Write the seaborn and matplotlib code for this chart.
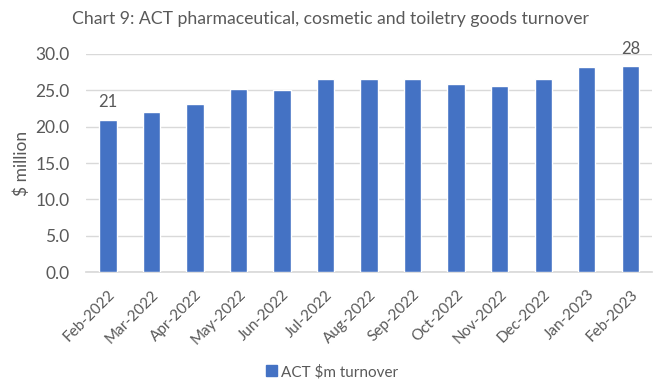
import matplotlib
matplotlib.use("Agg")
import matplotlib.pyplot as plt
import seaborn as sns
import pandas as pd
from matplotlib.patches import Patch

months = ["Feb-2022", "Mar-2022", "Apr-2022", "May-2022", "Jun-2022", "Jul-2022",
          "Aug-2022", "Sep-2022", "Oct-2022", "Nov-2022", "Dec-2022", "Jan-2023", "Feb-2023"]
turnover = [20.95, 22.05, 23.1, 25.2, 25.1, 26.6, 26.5, 26.5, 25.9, 25.6, 26.5, 28.2, 28.3]
y_ticks = [0, 5, 10, 15, 20, 25, 30]

df = pd.DataFrame({"month": months, "turnover": turnover})

sns.set_theme(style="white")
plt.rcParams["font.family"] = ["Lato", "DejaVu Sans"]

text_color = "#595959"
bar_color = "#4472C4"

fig = plt.figure(figsize=(6.58, 3.85), dpi=100)
ax = fig.add_axes([0.131, 0.293, 0.860, 0.567])

sns.barplot(data=df, x="month", y="turnover", color=bar_color, width=0.4,
            saturation=1, ax=ax, zorder=3)

ax.set_ylim(0, 30)
ax.set_yticks(y_ticks)
ax.set_yticklabels([f"{v:.1f}" for v in y_ticks], color=text_color, fontsize=12.5)
ax.yaxis.grid(True, color="#d9d9d9", linewidth=1, zorder=0)
ax.set_xlim(-0.5, len(months) - 0.5)
ax.set_xticks(range(len(months)))
ax.set_xticklabels(months, rotation=45, ha="right", rotation_mode="anchor",
                   color=text_color, fontsize=11)
ax.tick_params(axis="x", length=0, pad=11)
ax.tick_params(axis="y", length=0, pad=12)

# minor ticks between categories on the baseline
ax.set_xticks([i + 0.5 for i in range(-1, len(months))], minor=True)
ax.tick_params(axis="x", which="minor", length=4, color="#d9d9d9", direction="out")

for side in ["top", "right", "left"]:
    ax.spines[side].set_visible(False)
ax.spines["bottom"].set_color("#d9d9d9")

ax.set_xlabel("")
ax.set_ylabel("$ million", color=text_color, fontsize=12.5)
ax.yaxis.set_label_coords(-0.10, 0.5, transform=ax.transAxes)

# value labels on first and last bars
for idx in (0, len(months) - 1):
    ax.text(idx, turnover[idx] + 2.4, f"{turnover[idx]:.0f}", ha="center", va="center",
            color=text_color, fontsize=12, clip_on=False)

fig.text(0.502, 0.95, "Chart 9: ACT pharmaceutical, cosmetic and toiletry goods turnover",
         ha="center", va="center", color=text_color, fontsize=12.7)

fig.legend(handles=[Patch(color=bar_color, label="ACT $m turnover")],
           loc="center", bbox_to_anchor=(0.505, 0.034), frameon=False,
           handlelength=0.7, handleheight=0.7, handletextpad=0.3,
           labelcolor=text_color, fontsize=11)

fig.savefig("out.png", dpi=100)
